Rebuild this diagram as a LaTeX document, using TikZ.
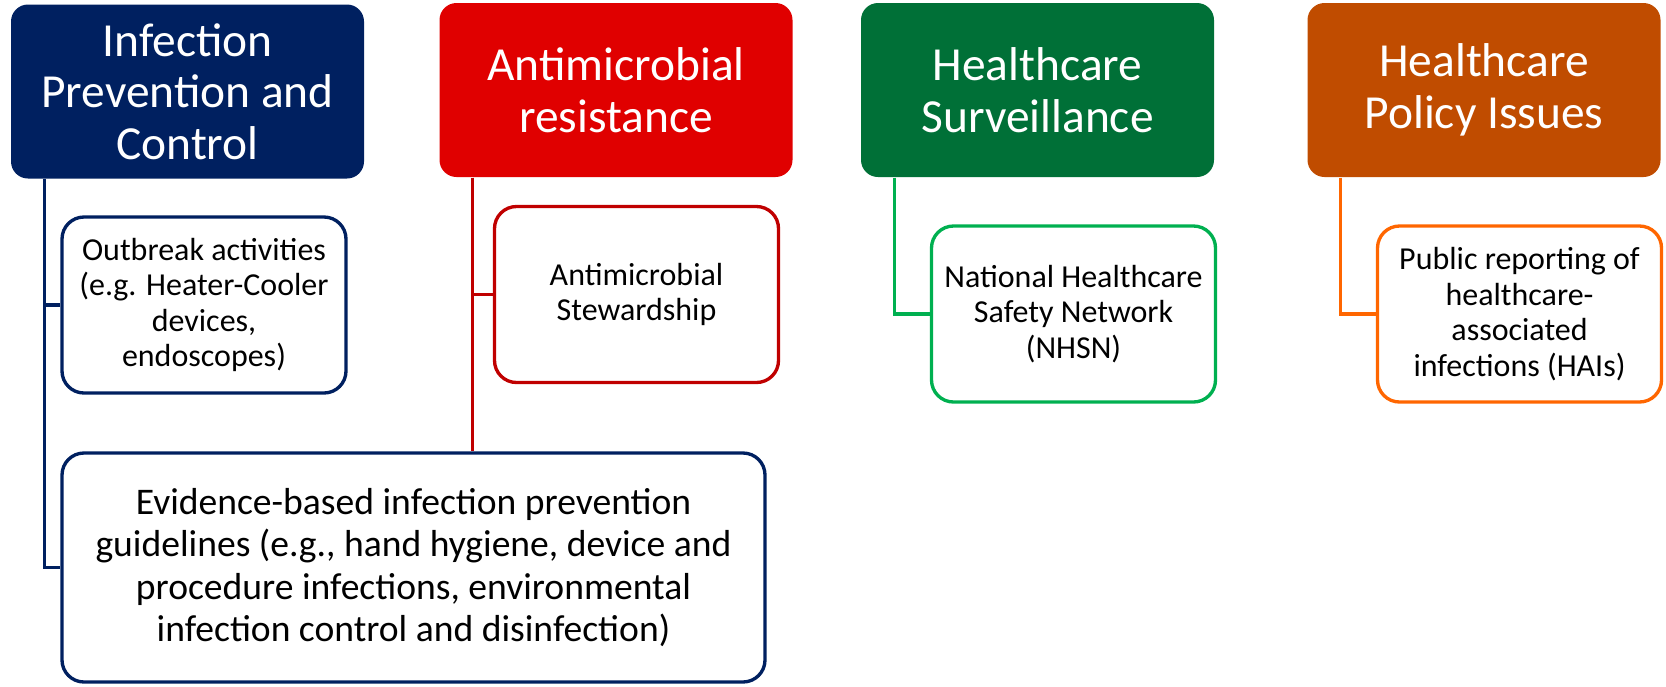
\documentclass[tikz,border=0pt]{standalone}
\usepackage{fontspec}
\setmainfont{Carlito}
\usetikzlibrary{positioning,calc}

\definecolor{navy}{HTML}{002060}
\definecolor{hdrred}{HTML}{E00000}
\definecolor{subred}{HTML}{C00000}
\definecolor{hdrgreen}{HTML}{007037}
\definecolor{subgreen}{HTML}{00B050}
\definecolor{hdrorange}{HTML}{C04C00}
\definecolor{suborange}{HTML}{FF6600}

\tikzset{
  hdr/.style={rounded corners=0.17cm, text=white, align=center, inner sep=0pt,
    minimum width=3.53cm, minimum height=1.74cm,
    font=\fontsize{13.5}{14.7}\selectfont},
  subbox/.style={draw, line width=0.95pt, rounded corners=0.22cm, fill=white,
    align=center, inner sep=0pt, minimum width=2.84cm, minimum height=1.76cm,
    font=\fontsize{9.1}{10.1}\selectfont},
  link/.style={line width=0.9pt}
}

\begin{document}
\begin{tikzpicture}
\useasboundingbox (0,0) rectangle (16.66,-6.86);

% Column 1
\node[hdr, fill=navy] (ipc) at (1.875,-0.915) {Infection\\Prevention and\\Control};
\node[subbox, draw=navy] (outbreak) at (2.04,-3.05) {Outbreak activities\\(e.g. Heater-Cooler\\devices,\\endoscopes)};
\node[subbox, draw=navy, minimum width=7.03cm, minimum height=2.29cm,
  font=\fontsize{10.7}{12.0}\selectfont] (evid) at (4.135,-5.675)
  {Evidence-based infection prevention\\guidelines (e.g., hand hygiene, device and\\procedure infections, environmental\\infection control and disinfection)};

% Column 2
\node[hdr, fill=hdrred] (amr) at (6.16,-0.90) {Antimicrobial\\resistance};
\node[subbox, draw=subred] (ams) at (6.365,-2.945) {Antimicrobial\\Stewardship};

% Column 3
\node[hdr, fill=hdrgreen] (hs) at (10.375,-0.90) {Healthcare\\Surveillance};
\node[subbox, draw=subgreen] (nhsn) at (10.735,-3.14) {National Healthcare\\Safety Network\\(NHSN)};

% Column 4
\node[hdr, fill=hdrorange] (hp) at (14.84,-0.90) {Healthcare\\Policy Issues};
\node[subbox, draw=suborange] (pub) at (15.195,-3.14) {Public reporting of\\healthcare-\\associated\\infections (HAIs)};

% Links
\coordinate (ipcdrop) at ($(ipc.south west)+(0.34,0)$);
\coordinate (amrdrop) at ($(amr.south west)+(0.34,0)$);
\coordinate (hsdrop) at ($(hs.south west)+(0.34,0)$);
\coordinate (hpdrop) at ($(hp.south west)+(0.34,0)$);
\draw[link, navy] (ipcdrop) |- (outbreak.west);
\draw[link, navy] (ipcdrop) |- (evid.west);
\draw[link, subred] (amrdrop) |- (ams.west);
\draw[link, subred] (amrdrop) -- (amrdrop |- evid.north);
\draw[link, subgreen] (hsdrop) |- (nhsn.west);
\draw[link, suborange] (hpdrop) |- (pub.west);
\end{tikzpicture}
\end{document}
